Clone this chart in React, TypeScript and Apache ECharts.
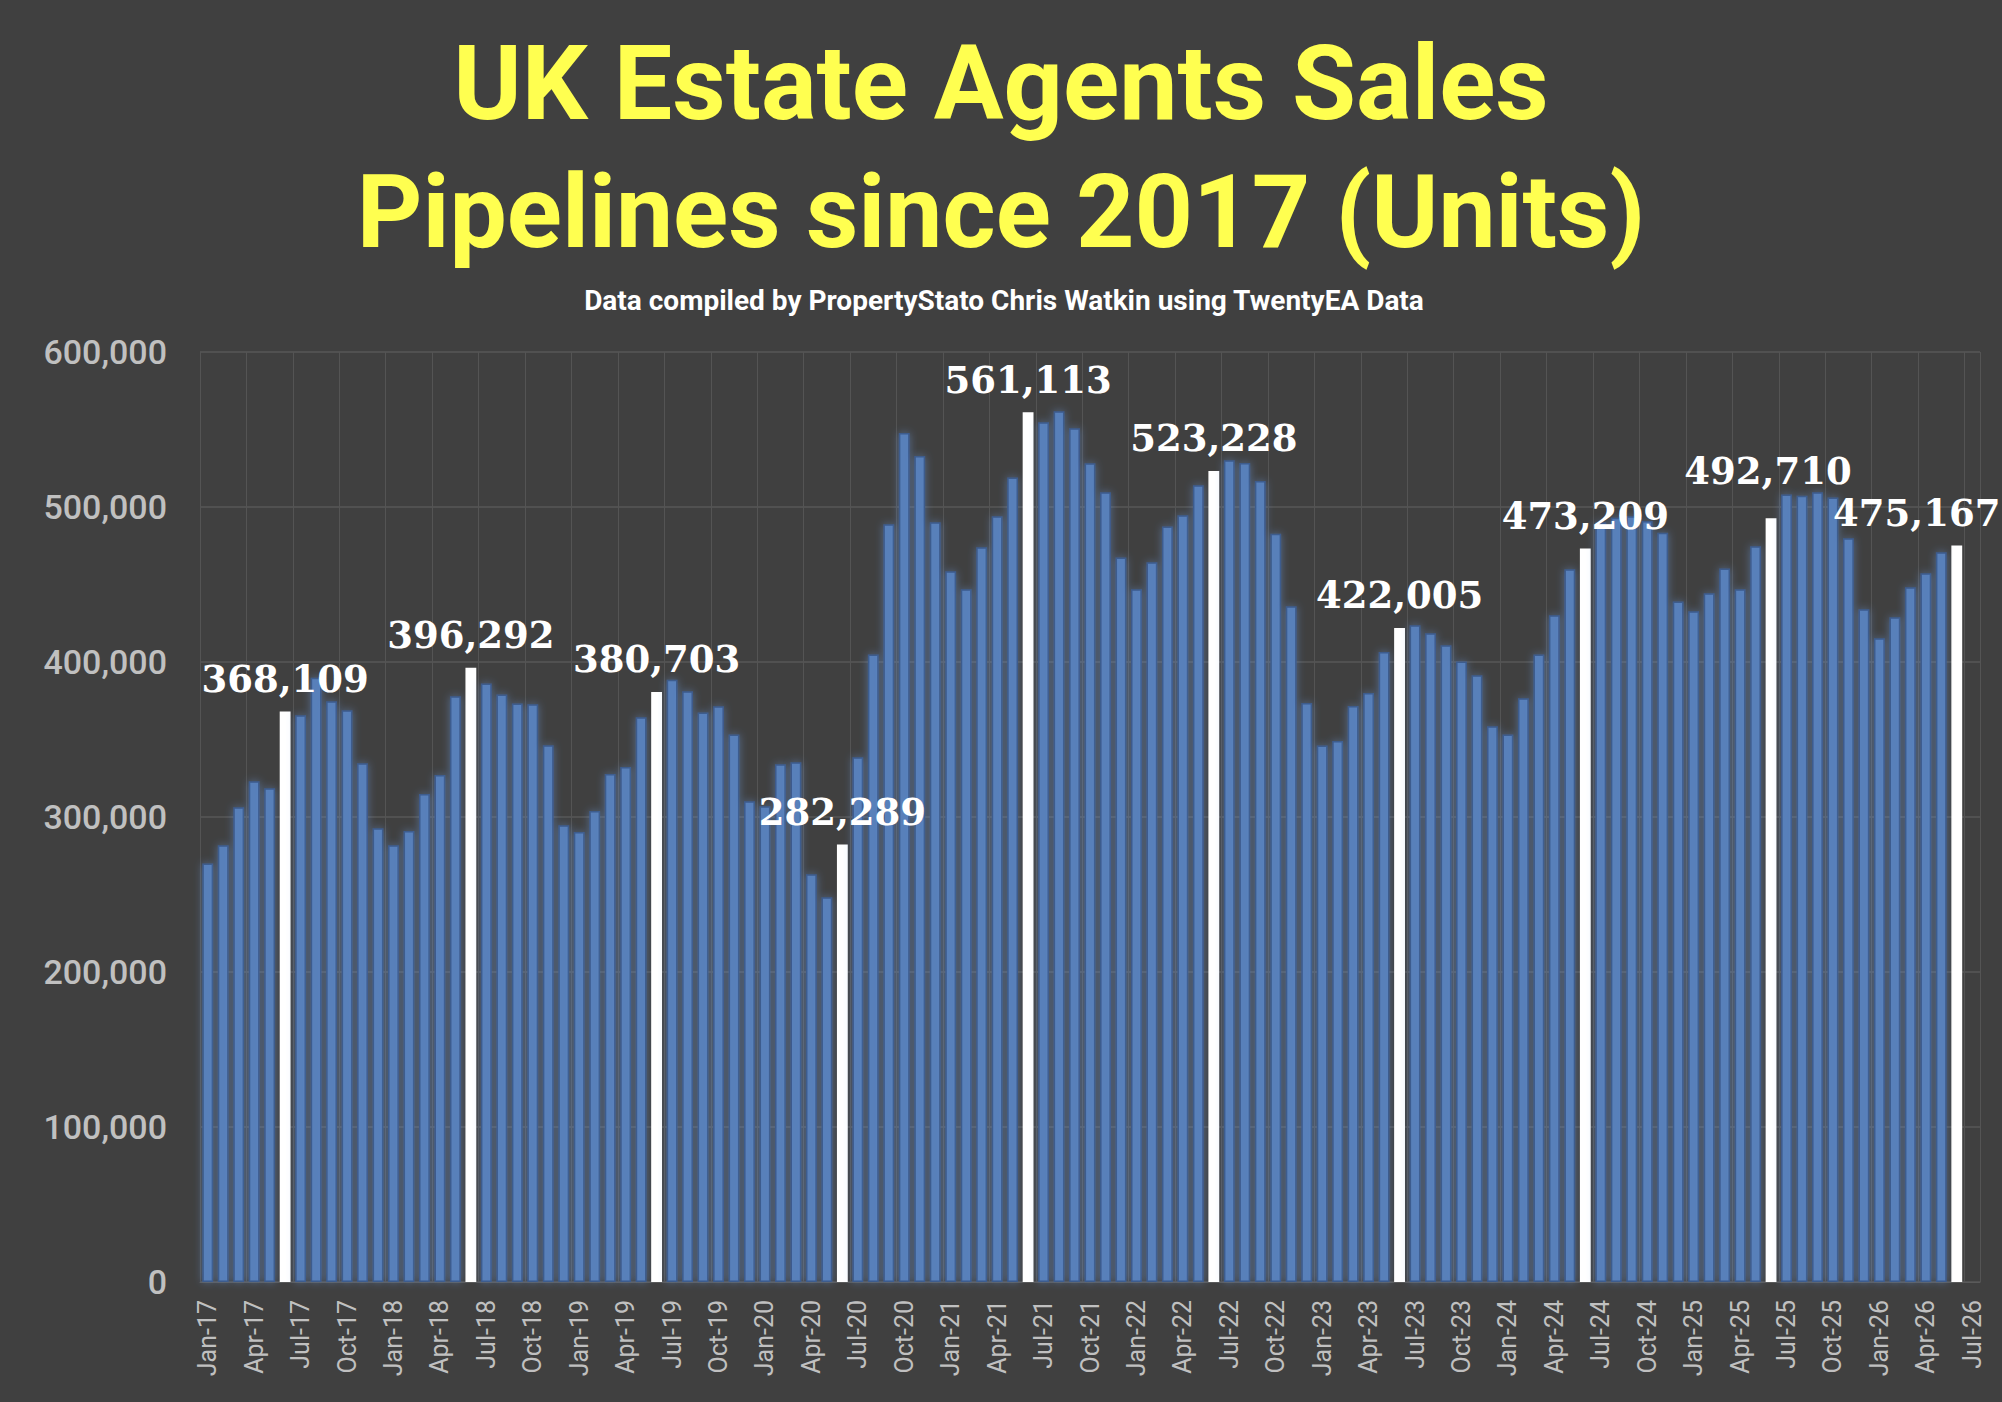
import React, { useEffect, useRef } from 'react';
import * as echarts from 'echarts';

// month axis: Jan-17 .. Jul-26 (Jul-26 has no figure yet)
const monthNames = ['Jan', 'Feb', 'Mar', 'Apr', 'May', 'Jun', 'Jul', 'Aug', 'Sep', 'Oct', 'Nov', 'Dec'];
const yearSuffixes = ['17', '18', '19', '20', '21', '22', '23', '24', '25', '26'];
const months = yearSuffixes.flatMap(y => monthNames.map(m => `${m}-${y}`)).slice(0, 115);

// sales pipeline, units (June figures are the labelled ones)
const units2017 = [270000, 281700, 306300, 323000, 318500, 368109, 365600, 389900, 374600, 368800, 334600, 292700];
const units2018 = [281700, 291000, 314900, 327100, 377900, 396292, 386200, 379100, 373300, 372700, 346300, 294700];
const units2019 = [290400, 303900, 327800, 332300, 364400, 380703, 388600, 381100, 367500, 371400, 353300, 310100];
const units2020 = [307000, 334000, 335300, 263000, 248200, 282289, 338500, 404900, 488800, 547700, 532900, 490100];
const units2021 = [458500, 446900, 474000, 494000, 519100, 561113, 554600, 561700, 550800, 528200, 509500, 467500];
const units2022 = [446900, 464300, 487500, 494600, 514000, 523228, 530100, 528400, 516800, 482800, 435900, 373500];
const units2023 = [346200, 349000, 371600, 380000, 406500, 422005, 423700, 418500, 410800, 400400, 391400, 358500];
const units2024 = [353300, 376600, 404900, 430100, 459800, 473209, 490000, 493000, 494000, 491000, 483400, 439100];
const units2025 = [432700, 444300, 460400, 446900, 474600, 492710, 508000, 507300, 509500, 506200, 479800, 434000];
const units2026 = [415300, 428800, 448200, 457200, 470800, 475167];

const pipelineUnits = [
  ...units2017, ...units2018, ...units2019, ...units2020, ...units2021,
  ...units2022, ...units2023, ...units2024, ...units2025, ...units2026,
];

const yTicks = [0, 100000, 200000, 300000, 400000, 500000, 600000];

// a couple of labels were nudged by hand in the original
const labelOffsets: Record<string, number[]> = {
  'Jun-25': [-3, -15],
  'Jun-26': [-40, 0],
};

const BG = '#404040';
const fmt = (v: number) => Number(v).toLocaleString('en-US');

const App: React.FC = () => {
  const chartRef = useRef<HTMLDivElement>(null);

  useEffect(() => {
    document.body.style.margin = '0';
    document.body.style.overflow = 'hidden';
    const chart = echarts.init(chartRef.current, null, { renderer: 'svg' });

    const data = months.map((m, i) => {
      const v = pipelineUnits[i];
      if (v === undefined) return null;
      if (m.startsWith('Jun')) {
        return {
          value: v,
          itemStyle: { color: '#ffffff', borderColor: '#ffffff', shadowBlur: 0 },
          label: { show: true, offset: labelOffsets[m] || [0, 0] },
        };
      }
      return v;
    });

    const option = {
      animation: false,
      backgroundColor: BG,
      graphic: [
        {
          type: 'text',
          x: 1001,
          y: 83,
          style: {
            text: 'UK Estate Agents Sales',
            fill: '#ffff50',
            font: 'bold 104px Roboto',
            align: 'center',
            verticalAlign: 'middle',
          },
        },
        {
          type: 'text',
          x: 1001,
          y: 212,
          style: {
            text: 'Pipelines since 2017 (Units)',
            fill: '#ffff50',
            font: 'bold 102px Roboto',
            align: 'center',
            verticalAlign: 'middle',
          },
        },
        {
          type: 'text',
          x: 1004,
          y: 300,
          style: {
            text: 'Data compiled by PropertyStato Chris Watkin using TwentyEA Data',
            fill: '#ffffff',
            font: 'bold 28px Roboto',
            align: 'center',
            verticalAlign: 'middle',
          },
        },
      ],
      grid: { left: 200, right: 22, top: 352, bottom: 120 },
      xAxis: {
        type: 'category',
        data: months,
        boundaryGap: true,
        axisLine: { show: true, lineStyle: { color: '#5a5a5a', width: 1 } },
        axisTick: { show: false },
        axisLabel: {
          interval: 2,
          rotate: 90,
          margin: 18,
          color: '#c0c0c0',
          fontFamily: 'Roboto',
          fontSize: 25,
        },
        splitLine: { show: true, interval: 2, lineStyle: { color: '#545454', width: 1 } },
      },
      yAxis: {
        type: 'value',
        min: yTicks[0],
        max: yTicks[yTicks.length - 1],
        interval: 100000,
        axisLine: { show: false },
        axisTick: { show: false },
        axisLabel: {
          margin: 33,
          color: '#c0c0c0',
          fontFamily: 'Roboto',
          fontWeight: 500,
          fontSize: 34,
          formatter: (v: number) => fmt(v),
        },
        splitLine: { lineStyle: { color: '#575757', width: 1.5 } },
      },
      series: [
        {
          type: 'bar',
          data,
          barCategoryGap: '30%',
          itemStyle: {
            color: '#5880ba',
            borderColor: '#3d5b8d',
            borderWidth: 1.5,
            shadowBlur: 8,
            shadowColor: 'rgba(110,160,235,0.45)',
          },
          label: {
            show: false,
            position: 'top',
            distance: 14,
            color: '#ffffff',
            fontFamily: 'DejaVu Serif',
            fontWeight: 'bold',
            fontSize: 37,
            formatter: (p: any) => fmt(p.value),
          },
        },
      ],
    };

    chart.setOption(option);

    return () => {
      chart.dispose();
    };
  }, []);

  return <div ref={chartRef} style={{ width: '2002px', height: '1402px', background: BG }} />;
};

export default App;
